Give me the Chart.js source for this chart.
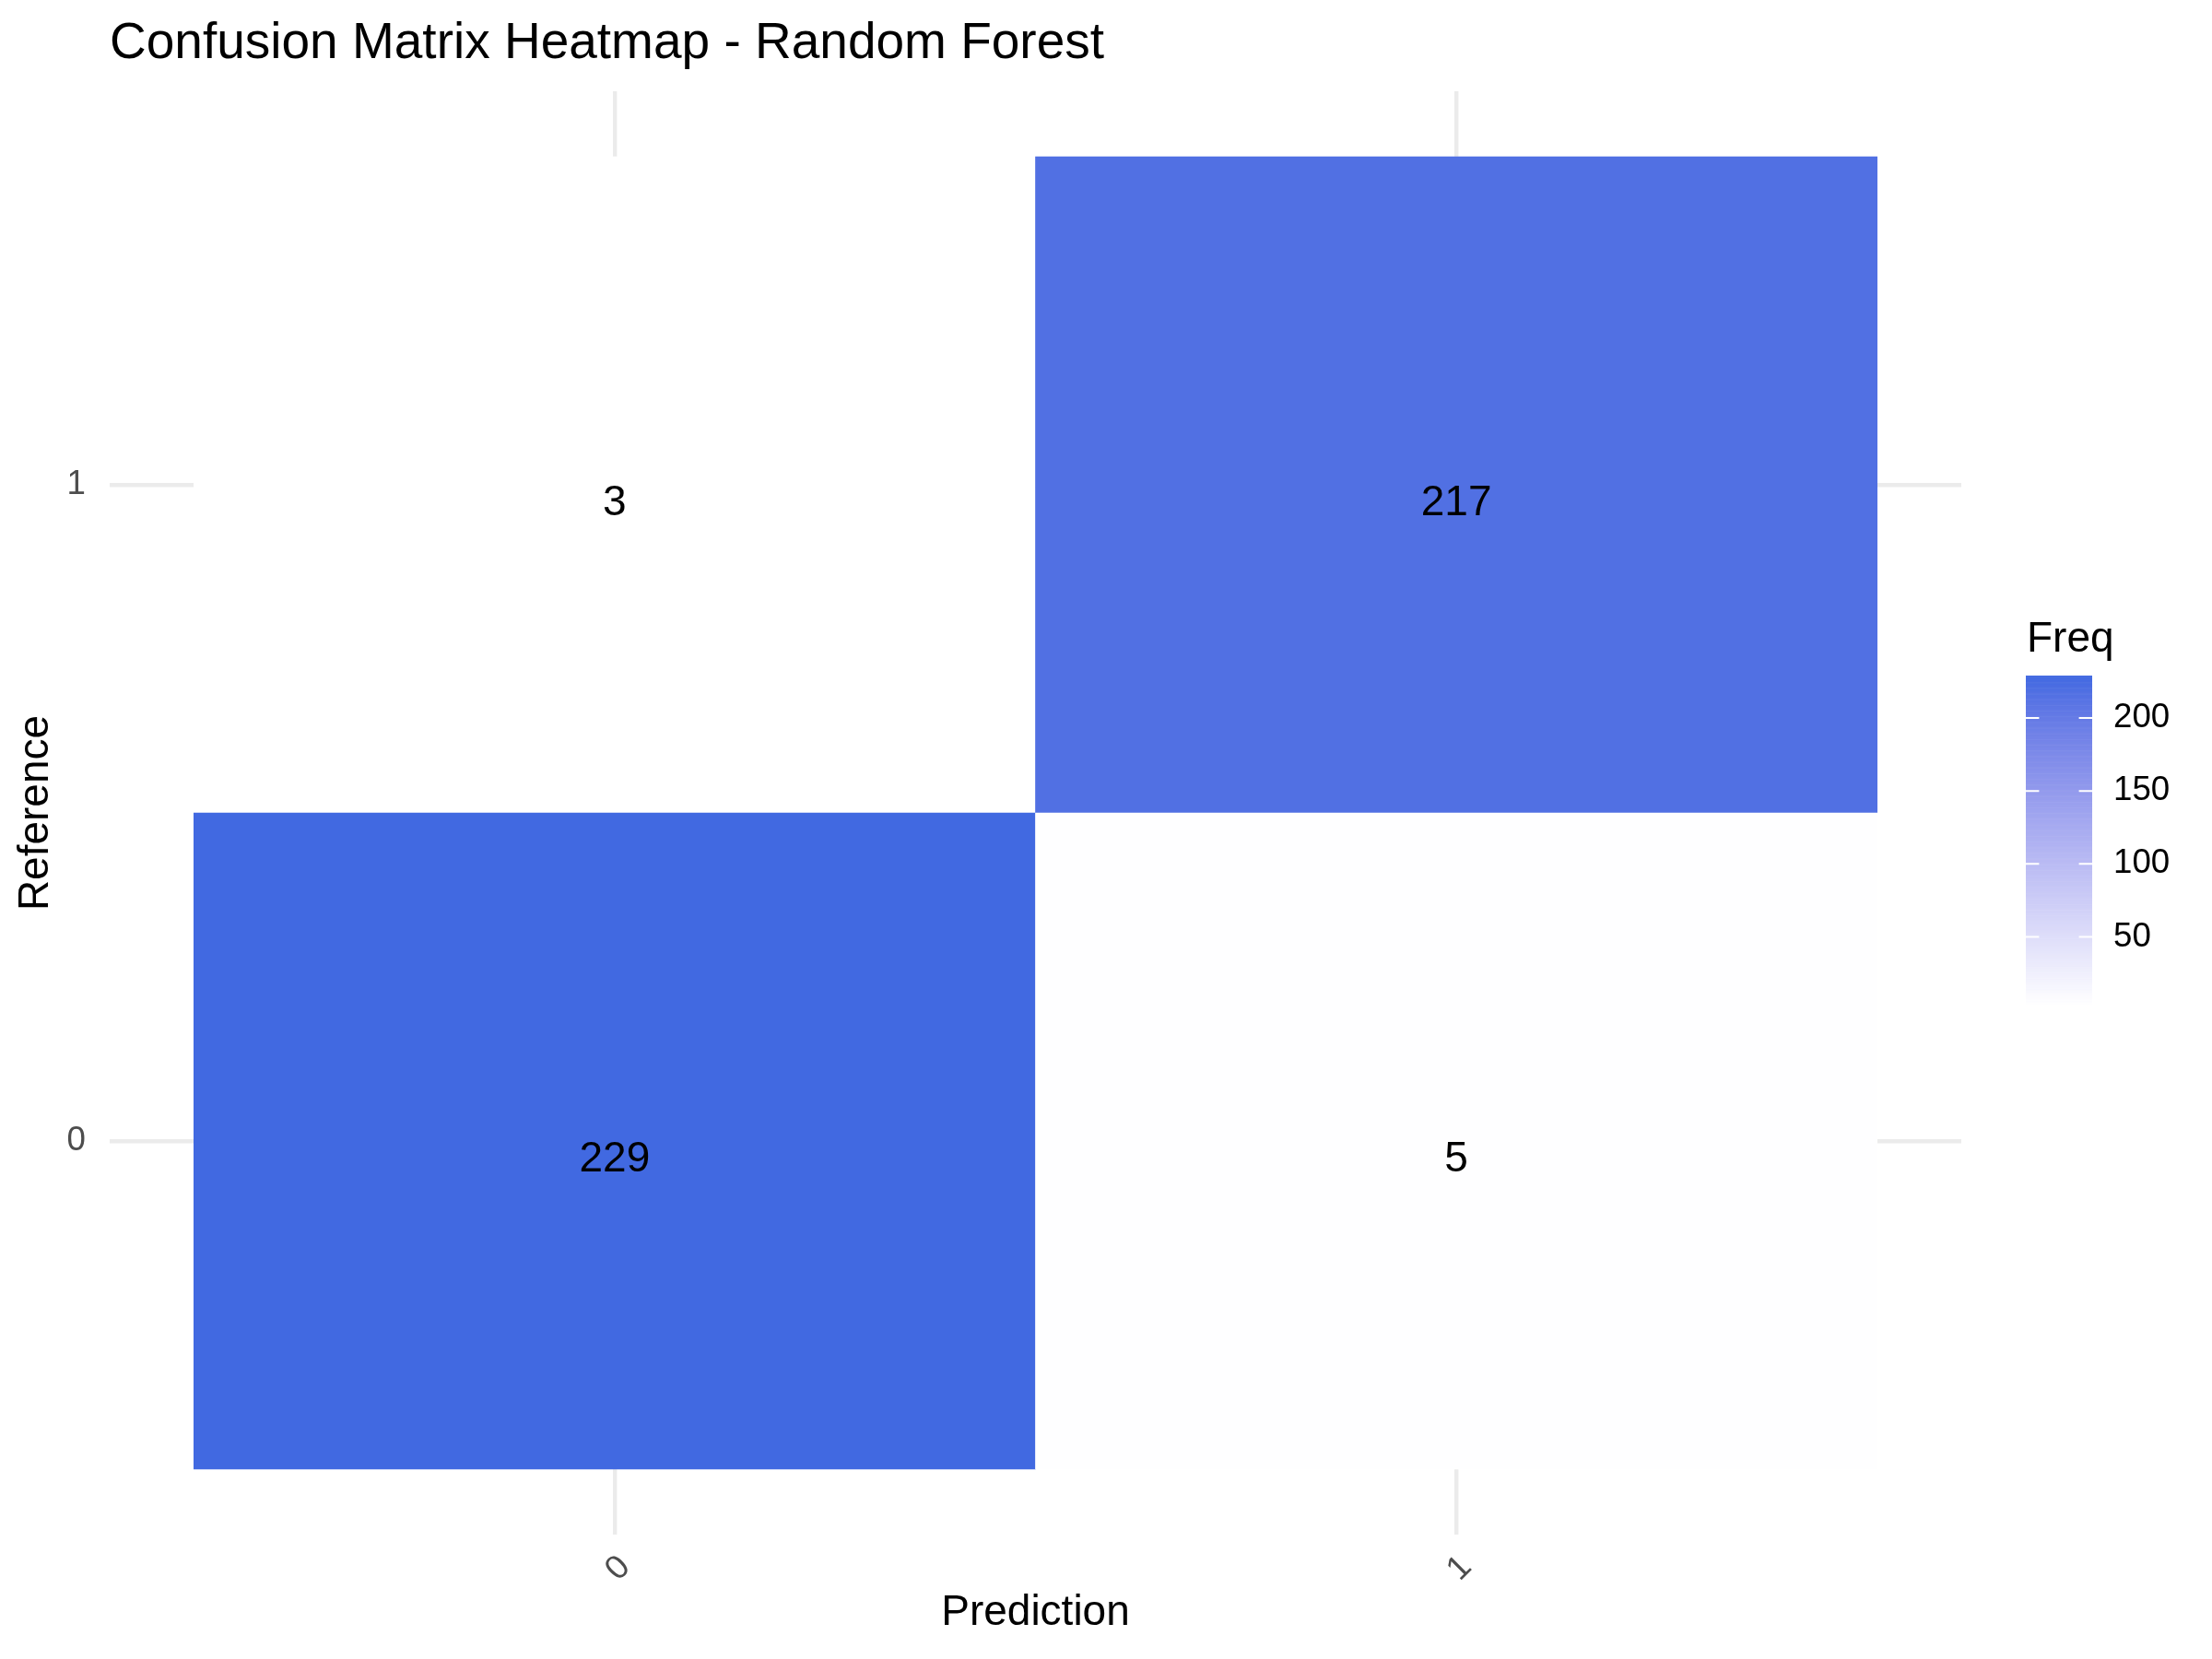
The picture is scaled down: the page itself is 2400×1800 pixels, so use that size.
<!DOCTYPE html>
<html>
<head>
<meta charset="utf-8">
<script src="https://cdn.jsdelivr.net/npm/chart.js@4/dist/chart.umd.min.js"></script>
<style>
  html, body { margin: 0; padding: 0; background: #ffffff; }
  #wrap { width: 2400px; height: 1800px; }
</style>
</head>
<body>
<div id="wrap"><canvas id="c" width="2400" height="1800"></canvas></div>
<script>
// ---------------- data ----------------
const titleText = 'Confusion Matrix Heatmap - Random Forest';
const xTitle = 'Prediction';
const yTitle = 'Reference';
const legendTitle = 'Freq';
const predictionLabels = ['0', '1'];          // x categories
const referenceLabels = ['0', '1'];           // y categories
const freqReference0 = [229, 5];              // Reference = 0, by Prediction 0,1
const freqReference1 = [3, 217];              // Reference = 1, by Prediction 0,1
const legendTicks = [50, 100, 150, 200];
const lowColor = '#FFFFFF';
const highColor = '#4169E1';

const freqRows = [freqReference0, freqReference1];
const allFreq = freqRows.flat();
const fMin = Math.min(...allFreq), fMax = Math.max(...allFreq);

// ---------------- colour (CIELAB interpolation like ggplot) ----------------
function hexToRgb(h){ h = h.replace('#',''); return [0,2,4].map(i => parseInt(h.substr(i,2),16)); }
function toLin(c){ c /= 255; return c <= 0.04045 ? c/12.92 : Math.pow((c+0.055)/1.055, 2.4); }
function fromLin(c){ c = c <= 0.0031308 ? 12.92*c : 1.055*Math.pow(c, 1/2.4) - 0.055; return Math.round(Math.max(0, Math.min(1, c))*255); }
const Xn = 0.95047, Yn = 1.0, Zn = 1.08883;
function fLab(t){ return t > 0.008856 ? Math.cbrt(t) : 7.787*t + 16/116; }
function fInv(t){ return t > 0.206893 ? t*t*t : (t - 16/116)/7.787; }
function rgbToLab(rgb){
  const [r,g,b] = rgb.map(toLin);
  const X = 0.4124564*r + 0.3575761*g + 0.1804375*b;
  const Y = 0.2126729*r + 0.7151522*g + 0.0721750*b;
  const Z = 0.0193339*r + 0.1191920*g + 0.9503041*b;
  const fx = fLab(X/Xn), fy = fLab(Y/Yn), fz = fLab(Z/Zn);
  return [116*fy - 16, 500*(fx - fy), 200*(fy - fz)];
}
function labToRgb(lab){
  const [L,a,b] = lab;
  const fy = (L + 16)/116, fx = fy + a/500, fz = fy - b/200;
  const X = Xn*fInv(fx), Y = Yn*fInv(fy), Z = Zn*fInv(fz);
  const r =  3.2404542*X - 1.5371385*Y - 0.4985314*Z;
  const g = -0.9692660*X + 1.8760108*Y + 0.0415560*Z;
  const bb = 0.0556434*X - 0.2040259*Y + 1.0572252*Z;
  return [fromLin(r), fromLin(g), fromLin(bb)];
}
const labLow = rgbToLab(hexToRgb(lowColor)), labHigh = rgbToLab(hexToRgb(highColor));
function colorFor(v){
  const t = Math.max(0, Math.min(1, (v - fMin)/(fMax - fMin)));
  const lab = labLow.map((c,i) => c + (labHigh[i] - c)*t);
  const [r,g,b] = labToRgb(lab);
  return `rgb(${r},${g},${b})`;
}

// ---------------- datasets ----------------
const datasets = freqRows.map((row, j) => ({
  label: 'Reference ' + referenceLabels[j],
  data: predictionLabels.map((p, i) => ({ x: i + 1, y: [j + 0.5, j + 1.5], v: row[i] })),
  backgroundColor: row.map(colorFor),
  borderWidth: 0,
  barPercentage: 1,
  categoryPercentage: 1,
  grouped: false
}));

const FONT = '"Liberation Sans", Arial, Helvetica, sans-serif';
Chart.defaults.font.family = FONT;

const titlePlugin = {
  id: 'ggTitle',
  afterDraw(chart){
    const ctx = chart.ctx;
    ctx.save();
    ctx.fillStyle = '#000000';
    ctx.font = '55px ' + FONT;
    ctx.textAlign = 'left';
    ctx.textBaseline = 'alphabetic';
    ctx.fillText(titleText, chart.chartArea.left, 63);
    ctx.restore();
  }
};

const cellLabelPlugin = {
  id: 'cellLabels',
  afterDatasetsDraw(chart){
    const ctx = chart.ctx;
    ctx.save();
    ctx.fillStyle = '#000000';
    ctx.font = '46px ' + FONT;
    ctx.textAlign = 'center';
    ctx.textBaseline = 'alphabetic';
    chart.data.datasets.forEach((ds, di) => {
      const meta = chart.getDatasetMeta(di);
      meta.data.forEach((el, i) => {
        const cy = (el.y + el.base)/2;
        ctx.fillText(String(ds.data[i].v), el.x, cy + 33);
      });
    });
    ctx.restore();
  }
};

const colorbarPlugin = {
  id: 'colorbar',
  afterDraw(chart){
    const ctx = chart.ctx;
    const bx = 2198, bw = 72, top = 733, bottom = 1091;
    const valToY = v => bottom - (v - fMin)/(fMax - fMin)*(bottom - top);
    ctx.save();
    // title
    ctx.fillStyle = '#000000';
    ctx.font = '46px ' + FONT;
    ctx.textAlign = 'left';
    ctx.textBaseline = 'alphabetic';
    ctx.fillText(legendTitle, 2199, 707);
    // gradient bar
    const n = 300;
    const h = (bottom - top)/n;
    for (let k = 0; k < n; k++){
      const v = fMax - (k + 0.5)/n*(fMax - fMin);
      ctx.fillStyle = colorFor(v);
      ctx.fillRect(bx, top + k*h, bw, h + 0.6);
    }
    // ticks + labels
    ctx.strokeStyle = '#FFFFFF';
    ctx.lineWidth = 2;
    ctx.fillStyle = '#000000';
    ctx.font = '36.7px ' + FONT;
    ctx.textBaseline = 'middle';
    legendTicks.forEach(t => {
      const y = valToY(t);
      ctx.beginPath();
      ctx.moveTo(bx, y); ctx.lineTo(bx + 14.4, y);
      ctx.moveTo(bx + bw - 14.4, y); ctx.lineTo(bx + bw, y);
      ctx.stroke();
      ctx.fillText(String(t), 2293, y);
    });
    ctx.restore();
  }
};

new Chart(document.getElementById('c'), {
  type: 'bar',
  data: { datasets },
  options: {
    responsive: false,
    devicePixelRatio: 1,
    animation: false,
    layout: { padding: { left: 0, right: 272, top: 99, bottom: 0 } },
    plugins: { legend: { display: false }, tooltip: { enabled: false }, title: { display: false } },
    scales: {
      x: {
        type: 'linear',
        min: 0.4, max: 2.6,
        offset: false,
        afterBuildTicks(scale){ scale.ticks = predictionLabels.map((l, i) => ({ value: i + 1 })); },
        afterFit(scale){ scale.height = 135; },
        grid: { color: '#EBEBEB', lineWidth: 4.4, drawTicks: false, offset: false },
        border: { display: false },
        ticks: {
          autoSkip: false,
          minRotation: 45, maxRotation: 45,
          padding: 14,
          labelOffset: 11,
          color: '#4D4D4D',
          font: { size: 36.7, family: FONT },
          callback: (v) => predictionLabels[Math.round(v) - 1] ?? ''
        },
        title: { display: true, text: xTitle, color: '#000000', font: { size: 46, family: FONT }, padding: { top: 22, bottom: 22 } }
      },
      y: {
        type: 'linear',
        min: 0.4, max: 2.6,
        offset: false,
        afterBuildTicks(scale){ scale.ticks = referenceLabels.map((l, i) => ({ value: i + 1 })); },
        afterFit(scale){ scale.width = 119; },
        grid: { color: '#EBEBEB', lineWidth: 4.4, drawTicks: false, offset: false },
        border: { display: false },
        ticks: {
          autoSkip: false,
          padding: 26,
          color: '#4D4D4D',
          font: { size: 36.7, family: FONT },
          callback: (v) => referenceLabels[Math.round(v) - 1] ?? ''
        },
        title: { display: true, text: yTitle, color: '#000000', font: { size: 46, family: FONT }, padding: { top: 12, bottom: 12 } }
      }
    }
  },
  plugins: [titlePlugin, cellLabelPlugin, colorbarPlugin]
});
</script>
</body>
</html>
